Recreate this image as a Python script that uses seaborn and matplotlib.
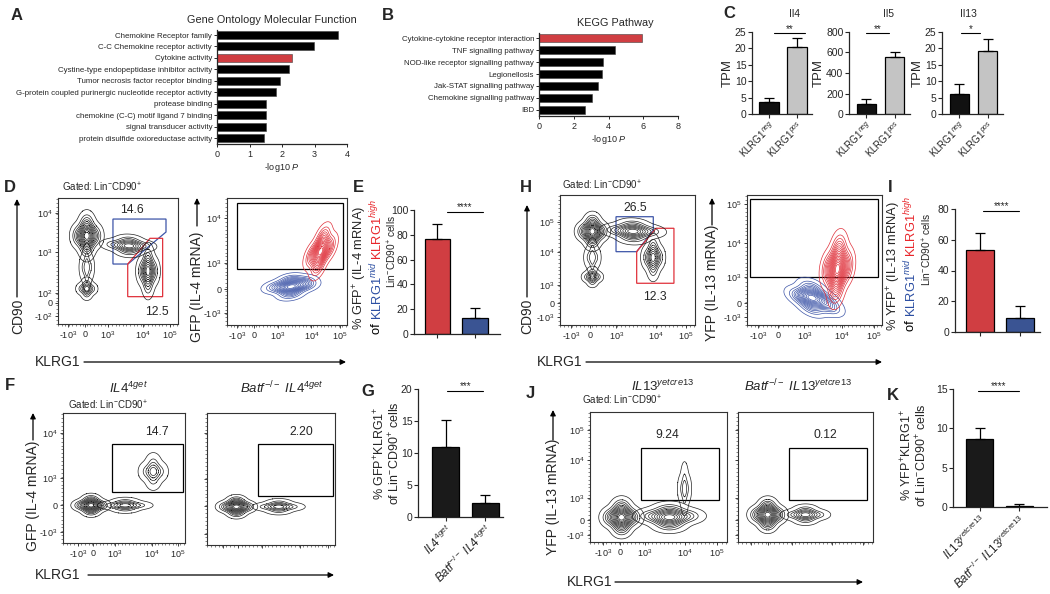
import numpy as np
import seaborn as sns
import matplotlib
matplotlib.use("Agg")
import matplotlib.pyplot as plt
from matplotlib.patches import Polygon, Rectangle
from matplotlib.ticker import MultipleLocator

# ---------------- data ----------------
# A: gene ontology, -log10 P
go_terms = ["Chemokine Receptor family", "C-C Chemokine receptor activity", "Cytokine activity",
            "Cystine-type endopeptidase inhibitor activity", "Tumor necrosis factor receptor binding",
            "G-protein coupled purinergic nucleotide receptor activity", "protease binding",
            "chemokine (C-C) motif ligand 7 binding", "signal transducer activity",
            "protein disulfide oxioreductase activity"]
go_logp = [3.72, 2.97, 2.32, 2.22, 1.95, 1.80, 1.52, 1.52, 1.51, 1.45]
go_hilite = "Cytokine activity"

# B: KEGG
kegg_terms = ["Cytokine-cytokine receptor interaction", "TNF signalling pathway",
              "NOD-like receptor signalling pathway", "Legionellosis", "Jak-STAT signalling pathway",
              "Chemokine signalling pathway", "IBD"]
kegg_logp = [5.94, 4.37, 3.66, 3.60, 3.37, 3.03, 2.67]
kegg_hilite = "Cytokine-cytokine receptor interaction"

# C: TPM
tpm_genes = ["Il4", "Il5", "Il13"]
tpm_groups = ["KLRG1$^{neg}$", "KLRG1$^{pos}$"]
tpm_mean = {"Il4": [3.8, 20.4], "Il5": [95, 560], "Il13": [6.1, 19.3]}
tpm_top = {"Il4": [4.8, 23.2], "Il5": [142, 606], "Il13": [9.1, 22.9]}
tpm_ymax = {"Il4": 25, "Il5": 800, "Il13": 25}
tpm_step = {"Il4": 5, "Il5": 200, "Il13": 5}
tpm_stars = {"Il4": "**", "Il5": "**", "Il13": "*"}

# E / I: % reporter+ of KLRG1 high / mid
klrg_groups = ["KLRG1$^{high}$", "KLRG1$^{mid}$"]
e_mean, e_top = [76.6, 12.9], [88.5, 21.0]
i_mean, i_top = [53.3, 9.1], [64.5, 16.8]

# G / K: % reporter+KLRG1+ in WT vs Batf-/-
g_groups = [r"$\mathit{IL4^{4get}}$", r"$\mathit{Batf^{-/-}\ IL4^{4get}}$"]
g_mean, g_top = [10.9, 2.2], [15.1, 3.4]
k_groups = [r"$\mathit{IL13^{yetcre13}}$", r"$\mathit{Batf^{-/-}\ IL13^{yetcre13}}$"]
k_mean, k_top = [8.7, 0.15], [10.1, 0.35]

# flow populations: events (x %, y %, weight) per population
d1_pops = [
    [(24, 70, 4), (17, 70, 1), (31, 70, 1), (24, 60, 1), (24, 80, 1)],
    [(24, 28, 4), (19.5, 28, 1), (28.5, 28, 1), (24, 23.5, 1), (24, 32.5, 1)],
    [(24, 45, 2), (21, 45, 1), (27, 45, 1), (24, 36, 1), (24, 54, 1)],
    [(59, 62, 4), (47, 63, 1), (70, 62, 1), (59, 57.5, 1), (59, 66.5, 1)],
    [(75, 42, 4), (70, 42, 1), (80, 42, 1), (75, 31, 1), (75, 53, 1)],
]
d2_blue = [(53, 30, 4), (41, 30, 1), (65, 31, 1), (53, 24.5, 1), (53, 35.5, 1), (63, 34, 1)]
d2_red = [(78, 58, 4), (71, 55, 1), (85, 61, 1), (76, 47, 1), (80, 69, 1)]
h1_pops = [
    [(24, 72, 4), (17.5, 72, 1), (30.5, 72, 1), (24, 64.5, 1), (24, 79.5, 1)],
    [(24, 37, 4), (20, 37, 1), (28, 37, 1), (24, 33, 1), (24, 41, 1)],
    [(24, 52, 2), (21, 52, 1), (27, 52, 1), (24, 45, 1), (24, 59, 1)],
    [(54, 72, 4), (42, 73, 1), (66, 72, 1), (54, 67, 1), (54, 77, 1)],
    [(69, 52, 4), (64.5, 52, 1), (73.5, 52, 1), (69, 43, 1), (69, 61, 1)],
]
h2_blue = [(48, 21, 4), (39, 22, 1), (57, 20, 1), (48, 13.5, 1), (48, 28.5, 1), (61, 14, 1)]
h2_red = [(67, 43, 4), (60.5, 43, 1), (73.5, 45, 1), (66, 28, 1), (68, 58, 1)]
f1_pops = [
    [(23, 29, 4), (15, 29, 1), (31, 29, 1), (23, 24.5, 1), (23, 33.5, 1)],
    [(51, 29, 4), (40, 29, 1), (62, 29, 1), (51, 26, 1), (51, 32, 1)],
    [(74, 55, 4), (68, 55, 1), (80, 55, 1), (74, 48, 1), (74, 62, 1)],
]
f2_pops = [
    [(23, 29, 4), (15, 29, 1), (31, 29, 1), (23, 24.5, 1), (23, 33.5, 1)],
    [(56, 29, 4), (46, 29, 1), (66, 29, 1), (56, 26, 1), (56, 32, 1)],
]
j1_pops = [
    [(23, 19, 4), (15, 19, 1), (31, 19, 1), (23, 11, 1), (23, 27, 1)],
    [(58, 19, 4), (45, 20, 1), (71, 20, 1), (58, 13, 1), (58, 25, 1)],
    [(69, 41, 4), (66.5, 41, 1), (71.5, 41, 1), (69, 31, 1), (69, 51, 1)],
]
j2_pops = [
    [(22, 21, 4), (14.5, 21, 1), (29.5, 21, 1), (22, 14, 1), (22, 28, 1)],
    [(50, 21, 4), (41, 21, 1), (59, 21, 1), (50, 17, 1), (50, 25, 1)],
]

# gates (% of plot) and frequencies
d1_gate_blue = [(45.8, 83.3), (90, 83.3), (90, 73), (58.3, 47.6), (45.8, 47.6)]
d1_gate_red = [(58.1, 21.7), (58.1, 47.6), (76.7, 68), (87.2, 68), (87.2, 21.7)]
h1_gate_blue = [(41.5, 83.3), (69.1, 83.3), (69.1, 73.1), (56.8, 56.4), (41.5, 56.4)]
h1_gate_red = [(56.8, 32.1), (56.8, 56.4), (71.1, 74.4), (84.4, 74.4), (84.4, 32.1)]
d2_gate = (8.6, 43.9, 96.7, 95.8)
h2_gate = (2.2, 36.9, 97.0, 96.9)
f1_gate = (40.2, 39.2, 98.4, 76.2)
f2_gate = (39.8, 37.1, 98.4, 76.5)
j1_gate = (37.2, 32.3, 94.2, 72.3)
j2_gate = (37.8, 32.3, 95.6, 72.3)
d_freqs = ["14.6", "12.5"]
h_freqs = ["26.5", "12.3"]
f_freqs = ["14.7", "2.20"]
j_freqs = ["9.24", "0.12"]

bi3 = ["-10$^3$", "0", "10$^3$", "10$^4$", "10$^5$"]

RED = "#e8262b"
BLUE = "#2b4ea2"
CBLUE = "#3d55a8"
CRED = "#e0313b"

# ---------------- style ----------------
sns.set_style("ticks")
plt.rcParams["font.family"] = ["Liberation Sans", "DejaVu Sans"]
plt.rcParams["mathtext.fontset"] = "custom"
plt.rcParams["mathtext.rm"] = "Liberation Sans"
plt.rcParams["mathtext.it"] = "Liberation Sans:italic"
plt.rcParams["mathtext.bf"] = "Liberation Sans:bold"
plt.rcParams["axes.linewidth"] = 0.9

W, H = 1050, 594
fig = plt.figure(figsize=(W / 100, H / 100), dpi=100)


def px_axes(l, t, r, b):
    return fig.add_axes([l / W, 1 - b / H, (r - l) / W, (b - t) / H])


def hbar(box, terms, vals, hilite, xmax, xstep):
    ax = px_axes(*box)
    colors = [RED if t == hilite else "black" for t in terms]
    sns.barplot(x=vals, y=terms, hue=terms, palette=colors, legend=False, orient="h",
                width=0.7, edgecolor="0.25", linewidth=0.4, ax=ax)
    ax.set_xlim(0, xmax)
    ax.set_ylim(len(terms) - 0.48, -0.44)
    ax.set_xticks(np.arange(0, xmax + 0.01, xstep))
    ax.tick_params(axis="y", labelsize=5.7, length=2, pad=1.5, width=0.7)
    ax.tick_params(axis="x", labelsize=6.5, length=2.5, pad=1.5, width=0.7)
    ax.set_xlabel("")
    ax.set_ylabel("")
    sns.despine(ax=ax)
    return ax


def vbar(box, groups, mean, top, colors, ymax, ystep, xlim, stars, span, fs=7.5):
    ax = px_axes(*box)
    sns.barplot(x=groups, y=mean, hue=groups, palette=colors, legend=False, width=0.68,
                edgecolor="black", linewidth=0.9, ax=ax)
    yerr = [np.zeros(len(mean)), np.array(top) - np.array(mean)]
    ax.errorbar(np.arange(len(mean)), mean, yerr=yerr, fmt="none", ecolor="black",
                elinewidth=0.9, capsize=3.5, capthick=0.9)
    ax.set_ylim(0, ymax)
    ax.set_yticks(np.arange(0, ymax + 1e-9, ystep))
    ax.set_xlim(*xlim)
    ax.tick_params(labelsize=fs, length=3, width=0.8, pad=1)
    ax.set_xlabel("")
    ax.set_ylabel("")
    sns.despine(ax=ax)
    y = ymax * 0.985
    ax.plot(span, [y, y], color="black", lw=0.8, clip_on=False)
    ax.text(sum(span) / 2, y + ymax * 0.015, stars, ha="center", va="baseline",
            fontsize=7, clip_on=False)
    return ax


def flow(box, pops, levels, colors, xt, xtl, yt, ytl):
    ax = px_axes(*box)
    for pts, nl, col in zip(pops, levels, colors):
        xs, ys, ws = zip(*pts)
        sns.kdeplot(x=list(xs), y=list(ys), weights=list(ws), levels=nl, thresh=0.02,
                    bw_adjust=1.0, color=col, linewidths=0.5, ax=ax)
    ax.set_xlim(0, 100)
    ax.set_ylim(0, 100)
    ax.set_xticks(xt)
    ax.set_yticks(yt)
    ax.set_xticklabels(xtl)
    ax.set_yticklabels(ytl)
    ax.xaxis.set_minor_locator(MultipleLocator(3))
    ax.yaxis.set_minor_locator(MultipleLocator(3))
    ax.tick_params(which="major", labelsize=6.5, length=2.5, width=0.6, pad=1.5)
    ax.tick_params(which="minor", length=1.3, width=0.4)
    ax.set_xlabel("")
    ax.set_ylabel("")
    for s in ax.spines.values():
        s.set_visible(True)
        s.set_linewidth(0.8)
        s.set_color("#333333")
    return ax


def rect_gate(ax, g):
    ax.add_patch(Rectangle((g[0], g[1]), g[2] - g[0], g[3] - g[1], fill=False,
                           edgecolor="black", lw=0.9))


def poly_gate(ax, pts, col):
    ax.add_patch(Polygon(pts, closed=True, fill=False, edgecolor=col, lw=0.9))


# ---------------- A, B ----------------
hbar((217, 30, 347, 144), go_terms, go_logp, go_hilite, 4, 1)
hbar((539, 33, 678, 116), kegg_terms, kegg_logp, kegg_hilite, 8, 2)

# ---------------- C ----------------
c_boxes = {"Il4": (752, 32, 812, 114), "Il5": (849, 32, 910, 114), "Il13": (942, 32, 1003, 114)}
c_spans = {"Il4": (0.17, 1.3), "Il5": (0.0, 0.8), "Il13": (0.07, 0.74)}
for g in tpm_genes:
    ax = vbar(c_boxes[g], tpm_groups, tpm_mean[g], tpm_top[g], ["#111111", "#c4c4c4"],
              tpm_ymax[g], tpm_step[g], (-0.607, 1.536), tpm_stars[g], c_spans[g])
    ax.set_xticks([0, 1])
    ax.set_xticklabels(tpm_groups, rotation=45, ha="right", rotation_mode="anchor", fontsize=7)
    ax.set_ylabel("TPM", fontsize=9.5, labelpad=1)

# ---------------- E, I, G, K ----------------
ax = vbar((414, 210, 500, 334), klrg_groups, e_mean, e_top, [RED, BLUE], 100, 20,
          (-0.627, 1.67), "****", (0.25, 1.21))
ax.set_xticklabels([])
ax = vbar((955, 209, 1040, 332), klrg_groups, i_mean, i_top, [RED, BLUE], 80, 20,
          (-0.625, 1.5), "****", (0.08, 0.98))
ax.set_xticklabels([])
ax = vbar((418, 389, 503, 517), g_groups, g_mean, g_top, ["#1a1a1a", "#1a1a1a"], 20, 5,
          (-0.7, 1.45), "***", (0.04, 0.95))
ax.set_xticks([0, 1])
ax.set_xticklabels(g_groups, rotation=45, ha="right", rotation_mode="anchor", fontsize=8.5)
ax = vbar((953, 389, 1047, 507), k_groups, k_mean, k_top, ["#1a1a1a", "#1a1a1a"], 15, 5,
          (-0.68, 1.7), "****", (-0.05, 0.99))
ax.set_xticks([0, 1])
ax.set_xticklabels(k_groups, rotation=45, ha="right", rotation_mode="anchor", fontsize=8.5)

# ---------------- flow plots ----------------
BLK = "#222222"
ax = flow((58, 198, 178, 324), d1_pops, [13, 7, 4, 9, 10], [BLK] * 5,
          [8.3, 22.5, 41.7, 70.8, 93.3], bi3,
          [6.3, 16.7, 24.6, 57.1, 88.1], ["-10$^2$", "0", "10$^2$", "10$^3$", "10$^4$"])
poly_gate(ax, d1_gate_blue, CBLUE)
poly_gate(ax, d1_gate_red, CRED)
ax.text(61.7, 90.5, d_freqs[0], ha="center", va="center", fontsize=8.7)
ax.text(82.5, 9.5, d_freqs[1], ha="center", va="center", fontsize=8.7)

ax = flow((227, 198, 347, 325), [d2_blue, d2_red], [15, 16], [CBLUE, CRED],
          [8.5, 22.9, 42.4, 70.3, 94.1], bi3,
          [9.4, 28.3, 48.8, 84.3], bi3[:4])
rect_gate(ax, d2_gate)

ax = flow((560, 195, 695, 325), h1_pops, [13, 7, 4, 10, 9], [BLK] * 5,
          [8.3, 22.5, 41.7, 70.8, 93.3], bi3,
          [6.2, 16.9, 30.8, 56.2, 79.2], bi3)
poly_gate(ax, h1_gate_blue, CBLUE)
poly_gate(ax, h1_gate_red, CRED)
ax.text(55.6, 90.2, h_freqs[0], ha="center", va="center", fontsize=8.7)
ax.text(70.4, 21.5, h_freqs[1], ha="center", va="center", fontsize=8.7)

ax = flow((747, 195, 882, 325), [h2_blue, h2_red], [15, 18], [CBLUE, CRED],
          [8.5, 22.9, 42.4, 70.3, 94.1], bi3,
          [6.2, 16.9, 36.9, 63.1, 93.1], bi3)
rect_gate(ax, h2_gate)

ax = flow((63, 413, 185, 543), f1_pops, [13, 7, 6], [BLK] * 3,
          [12.3, 24.6, 42.6, 73, 94.3], bi3,
          [8.5, 29.2, 50, 84.6], bi3[:4])
rect_gate(ax, f1_gate)
ax.text(77, 85.4, f_freqs[0], ha="center", va="center", fontsize=8.7)

ax = flow((207, 413, 335, 545), f2_pops, [13, 7], [BLK] * 2,
          [12.3, 24.6, 42.6, 73, 94.3], [], [8.5, 29.2, 50, 84.6], [])
rect_gate(ax, f2_gate)
ax.text(74, 85.6, f_freqs[1], ha="center", va="center", fontsize=8.7)

ax = flow((590, 412, 727, 542), j1_pops, [14, 11, 4], [BLK] * 3,
          [9.5, 21.9, 40.1, 69.3, 92.7], bi3,
          [5.4, 16.9, 33.8, 63.1, 86.2], bi3)
rect_gate(ax, j1_gate)
ax.text(56.2, 82.3, j_freqs[0], ha="center", va="center", fontsize=8.7)

ax = flow((738, 412, 873, 542), j2_pops, [14, 8], [BLK] * 2,
          [9.5, 21.9, 40.1, 69.3, 92.7], [], [5.4, 16.9, 33.8, 63.1, 86.2], [])
rect_gate(ax, j2_gate)
ax.text(64.4, 82.3, j_freqs[1], ha="center", va="center", fontsize=8.7)

# ---------------- overlay text (pixel coords) ----------------
ov = fig.add_axes([0, 0, 1, 1])
ov.set_xlim(0, W)
ov.set_ylim(H, 0)
ov.axis("off")

for letter, x, y in [("A", 17, 15), ("B", 388, 15), ("C", 729, 14), ("D", 10, 187),
                     ("E", 358, 187), ("H", 526, 188), ("I", 890, 187), ("F", 10, 386),
                     ("G", 368, 392), ("J", 530, 393), ("K", 893, 395)]:
    ov.text(x, y, letter, fontsize=12, fontweight="bold", ha="center", va="center")

ov.text(272, 20, "Gene Ontology Molecular Function", fontsize=7.8, ha="center", va="center")
ov.text(615, 23, "KEGG Pathway", fontsize=7.8, ha="center", va="center")
ov.text(282, 167, "-log10 $\\mathit{P}$", fontsize=6.5, ha="center", va="center")
ov.text(609, 139, "-log10 $\\mathit{P}$", fontsize=6.5, ha="center", va="center")
for g, x in zip(tpm_genes, [794, 888, 968]):
    ov.text(x, 14, g, fontsize=7.5, ha="center", va="center")

gated = "Gated: Lin$^{-}$CD90$^{+}$"
for x, y in [(62, 187), (562, 185), (68, 405), (582, 400)]:
    ov.text(x, y, gated, fontsize=7, ha="left", va="center")

ov.text(128, 388, r"$\mathit{IL4^{4get}}$", fontsize=9.5, ha="center", va="center")
ov.text(282, 388, r"$\mathit{Batf^{-/-}\ IL4^{4get}}$", fontsize=9.5, ha="center", va="center")
ov.text(663, 386, r"$\mathit{IL13^{yetcre13}}$", fontsize=9.5, ha="center", va="center")
ov.text(798, 386, r"$\mathit{Batf^{-/-}\ IL13^{yetcre13}}$", fontsize=9.5, ha="center", va="center")

arrow = dict(arrowstyle="-|>", color="black", lw=0.9, mutation_scale=8, shrinkA=0, shrinkB=0)


def arr(x0, y0, x1, y1):
    ov.annotate("", xy=(x1, y1), xytext=(x0, y0), arrowprops=arrow)


# flow axis labels
ov.text(18, 316, "CD90", rotation=90, fontsize=10, ha="center", va="center")
arr(17, 297, 17, 199)
ov.text(35, 362, "KLRG1", fontsize=10, ha="left", va="center")
arr(84, 362, 346, 362)
ov.text(197, 287, "GFP (IL-4 mRNA)", rotation=90, fontsize=10, ha="center", va="center")
arr(197, 226, 197, 198)

ov.text(527, 316, "CD90", rotation=90, fontsize=10, ha="center", va="center")
arr(527, 297, 527, 205)
ov.text(537, 362, "KLRG1", fontsize=10, ha="left", va="center")
arr(586, 362, 882, 362)
ov.text(712, 283, "YFP (IL-13 mRNA)", rotation=90, fontsize=10, ha="center", va="center")
arr(712, 225, 712, 198)

ov.text(33, 496, "GFP (IL-4 mRNA)", rotation=90, fontsize=10, ha="center", va="center")
arr(33, 440, 33, 413)
ov.text(35, 575, "KLRG1", fontsize=10, ha="left", va="center")
arr(88, 575, 334, 575)

ov.text(553, 497, "YFP (IL-13 mRNA)", rotation=90, fontsize=10, ha="center", va="center")
arr(553, 440, 553, 410)
ov.text(567, 582, "KLRG1", fontsize=10, ha="left", va="center")
arr(615, 582, 863, 582)


# bar chart y labels
def chain_vtext(x, y_bottom, parts, fs):
    s, c = parts[0]
    prev = ov.text(x, y_bottom, s, color=c, rotation=90, ha="center", va="bottom", fontsize=fs)
    for s, c in parts[1:]:
        prev = ov.annotate(s, xy=(0.5, 1), xycoords=prev, ha="center", va="bottom",
                           rotation=90, color=c, fontsize=fs)


ov.text(360, 268, "% GFP$^{+}$ (IL-4 mRNA)", rotation=90, fontsize=9.3, ha="center", va="center")
chain_vtext(377, 334, [("of ", "black"), ("KLRG1$^{mid}$ ", BLUE), ("KLRG1$^{high}$", RED)], 9.3)
ov.text(392, 251, "Lin$^{-}$CD90$^{+}$ cells", rotation=90, fontsize=7.3, ha="center", va="center")

ov.text(894, 266, "% YFP$^{+}$ (IL-13 mRNA)", rotation=90, fontsize=9.3, ha="center", va="center")
chain_vtext(911, 331, [("of ", "black"), ("KLRG1$^{mid}$ ", BLUE), ("KLRG1$^{high}$", RED)], 9.3)
ov.text(927, 249, "Lin$^{-}$CD90$^{+}$ cells", rotation=90, fontsize=7.3, ha="center", va="center")

ov.text(380, 453, "% GFP$^{+}$KLRG1$^{+}$", rotation=90, fontsize=9, ha="center", va="center")
ov.text(395, 453, "of Lin$^{-}$CD90$^{+}$ cells", rotation=90, fontsize=9, ha="center", va="center")
ov.text(907, 455, "% YFP$^{+}$KLRG1$^{+}$", rotation=90, fontsize=9, ha="center", va="center")
ov.text(922, 455, "of Lin$^{-}$CD90$^{+}$ cells", rotation=90, fontsize=9, ha="center", va="center")

fig.savefig("out.png", dpi=100)
